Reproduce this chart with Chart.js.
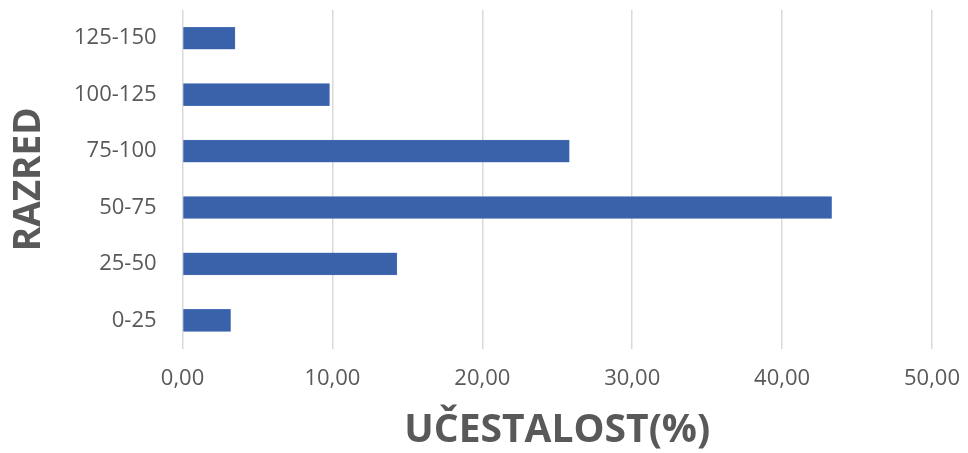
<!DOCTYPE html>
<html>
<head>
<meta charset="utf-8">
<script src="https://cdn.jsdelivr.net/npm/chart.js@4/dist/chart.umd.min.js"></script>
<style>
  html, body { margin: 0; padding: 0; background: #fff; }
  #wrap { width: 968px; height: 453px; }
</style>
</head>
<body>
<div id="wrap"><canvas id="barChart"></canvas></div>
<script>
// razredi (odozdo prema gore) i učestalost u %
const categories = ["0-25", "25-50", "50-75", "75-100", "100-125", "125-150"];
const frequency = [3.2, 14.3, 43.3, 25.8, 9.8, 3.5];
const xTicks = [0, 10, 20, 30, 40, 50];

const textColor = "#595959";

// bez dodatnog razmaka koji Chart.js dodaje zbog labela
const noEdgePadding = (scale) => {
    scale.paddingTop = 0;
    scale.paddingBottom = 0;
    scale.paddingLeft = 0;
    scale.paddingRight = 0;
};

const ctx = document.getElementById("barChart").getContext("2d");
new Chart(ctx, {
    type: "bar",
    data: {
        labels: categories,
        datasets: [
            {
                label: "Učestalost",
                data: frequency,
                backgroundColor: "#3a62ab",
                borderColor: "#5b7fc2",
                borderWidth: 0.5,
                barThickness: 22,
            },
        ],
    },
    options: {
        indexAxis: "y",
        responsive: true,
        maintainAspectRatio: false,
        animation: false,
        layout: { padding: { top: 10, right: 36, bottom: 3, left: 11 } },
        plugins: {
            legend: { display: false },
            tooltip: { enabled: false },
        },
        scales: {
            x: {
                min: 0,
                max: 50,
                afterBuildTicks: (axis) => {
                    axis.ticks = xTicks.map((v) => ({ value: v }));
                },
                afterFit: noEdgePadding,
                grid: { color: "#d9d9d9", lineWidth: 1.5, drawTicks: false },
                border: { display: false },
                ticks: {
                    color: textColor,
                    padding: 17,
                    maxRotation: 0,
                    font: { family: "Open Sans", size: 22 },
                    callback: (value) => value.toFixed(2).replace(".", ","),
                },
                title: {
                    display: true,
                    text: "UČESTALOST(%)",
                    color: textColor,
                    font: { family: "Open Sans", size: 39, weight: "bold", lineHeight: 1 },
                    padding: { top: 2, bottom: 0 },
                },
            },
            y: {
                reverse: true,
                afterFit: noEdgePadding,
                grid: { display: false, drawTicks: false },
                border: { display: false },
                ticks: {
                    color: textColor,
                    padding: 26,
                    font: { family: "Open Sans", size: 22 },
                },
                title: {
                    display: true,
                    text: "RAZRED",
                    color: textColor,
                    font: { family: "Open Sans", size: 37, weight: "bold", lineHeight: 1 },
                    padding: { top: 0, bottom: 0 },
                },
            },
        },
    },
});
</script>
</body>
</html>
